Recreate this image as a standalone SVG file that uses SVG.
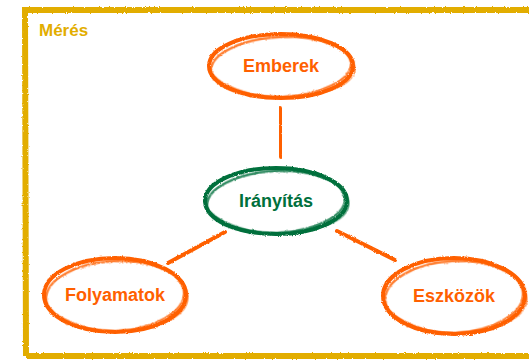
<svg xmlns="http://www.w3.org/2000/svg" width="529" height="360" viewBox="0 0 529 360">
  <style>
    .frame { fill: none; stroke: #E2AD00; stroke-width: 6; filter: url(#rough); }
    .o { fill: none; stroke: #FF6000; filter: url(#rough); }
    .g { fill: none; stroke: #00703C; filter: url(#rough); }
    .lbl { font-family: "Liberation Sans", Arial, sans-serif; font-weight: bold; font-size: 18px; text-anchor: middle; }
    .lo { fill: #FF6000; }
    .lg { fill: #00703C; }
    .conn { stroke: #FF6000; stroke-width: 4; stroke-linecap: round; filter: url(#rough); }
  </style>
  <defs>
    <filter id="rough" x="-10%" y="-10%" width="120%" height="120%">
      <feTurbulence type="fractalNoise" baseFrequency="0.9" numOctaves="2" seed="3" result="n"/>
      <feDisplacementMap in="SourceGraphic" in2="n" scale="2.5" xChannelSelector="R" yChannelSelector="G"/>
    </filter>
  </defs>
  <rect width="529" height="360" fill="#ffffff"/>
  <g id="frame">
    <path class="frame" d="M26 356 L25 10 L540 10 M26 356 L540 356"/>
    <text x="39" y="36" font-family="Liberation Sans, Arial, sans-serif" font-weight="bold" font-size="17" fill="#E2AD00">Mérés</text>
  </g>
  <g id="connectors">
    <path class="conn" d="M280 108 L281 157"/>
    <path class="conn" d="M225 232 L168 263"/>
    <path class="conn" d="M337 231 L395 260"/>
  </g>
  <g id="emberek">
    <ellipse class="o" cx="281" cy="66" rx="72" ry="32" stroke-width="4"/>
    <ellipse class="o" cx="281" cy="67" rx="70" ry="30" stroke-width="2.5" transform="rotate(-3 281 66)" opacity="0.8"/>
    <ellipse class="o" cx="282" cy="66" rx="73" ry="31" stroke-width="1.5" transform="rotate(2 281 66)" opacity="0.7"/>
    <text class="lbl lo" x="281" y="72">Emberek</text>
  </g>
  <g id="iranyitas">
    <ellipse class="g" cx="276" cy="201" rx="71" ry="33" stroke-width="4"/>
    <ellipse class="g" cx="276" cy="202" rx="69" ry="31" stroke-width="2.5" transform="rotate(-3 276 201)" opacity="0.8"/>
    <ellipse class="g" cx="277" cy="201" rx="72" ry="32" stroke-width="1.5" transform="rotate(2 276 201)" opacity="0.7"/>
    <text class="lbl lg" x="276" y="207">Irányítás</text>
  </g>
  <g id="folyamatok">
    <ellipse class="o" cx="115" cy="295" rx="71" ry="37" stroke-width="4"/>
    <ellipse class="o" cx="115" cy="296" rx="69" ry="35" stroke-width="2.5" transform="rotate(-3 115 295)" opacity="0.8"/>
    <ellipse class="o" cx="116" cy="295" rx="72" ry="36" stroke-width="1.5" transform="rotate(2 115 295)" opacity="0.7"/>
    <text class="lbl lo" x="115" y="301">Folyamatok</text>
  </g>
  <g id="eszkozok">
    <ellipse class="o" cx="454" cy="296" rx="71" ry="38" stroke-width="4"/>
    <ellipse class="o" cx="454" cy="297" rx="69" ry="36" stroke-width="2.5" transform="rotate(-3 454 296)" opacity="0.8"/>
    <ellipse class="o" cx="455" cy="296" rx="72" ry="37" stroke-width="1.5" transform="rotate(2 454 296)" opacity="0.7"/>
    <text class="lbl lo" x="454" y="302">Eszközök</text>
  </g>
</svg>
